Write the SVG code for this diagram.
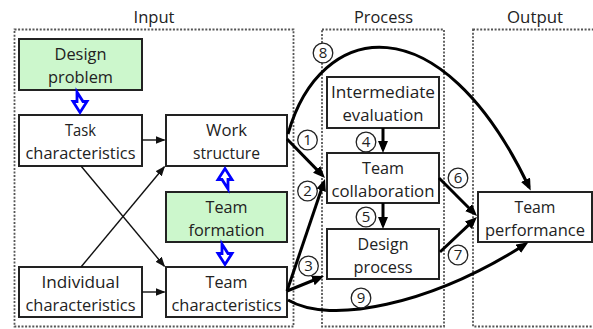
<svg xmlns="http://www.w3.org/2000/svg" width="593" height="329" viewBox="0 0 593 329">
  <style>
    .frame { fill: none; stroke: #555; stroke-width: 1.8; stroke-dasharray: 2 1.6; }
    .box { fill: #ffffff; stroke: #222; stroke-width: 2; }
    .box.green { fill: #ccf7cc; }
    text { font-family: "Open Sans", "Liberation Sans", sans-serif; font-size: 16.5px; fill: #222; text-anchor: middle; }
    .thin { fill: none; stroke: #111; stroke-width: 1.4; marker-end: url(#headThin); }
    .thick { fill: none; stroke: #000; stroke-width: 3; marker-end: url(#headThick); }
    .badge circle { fill: #fff; stroke: #222; stroke-width: 1.3; }
    .badge text { font-size: 15px; }
    .block { fill: #fff; stroke: #0000ff; stroke-width: 2.8; stroke-linejoin: miter; }
  </style>
  <defs>
    <marker id="headThin" markerUnits="userSpaceOnUse" markerWidth="11" markerHeight="9" refX="9" refY="4" orient="auto">
      <path d="M0,0 L10,4 L0,8 z" fill="#111"/>
    </marker>
    <marker id="headThick" markerUnits="userSpaceOnUse" markerWidth="13" markerHeight="11" refX="8" refY="5" orient="auto">
      <path d="M0,0 L12,5 L0,10 z" fill="#000"/>
    </marker>
    <!-- hollow block arrow pointing down, origin at top centre -->
    <path id="blockDown" d="M-3,0 V9.5 H-7 L0,20.5 L7,9.5 H3 Z"/>
  </defs>

  <!-- stage frames -->
  <g id="stages">
    <rect class="frame" x="14.5" y="29.5" width="279" height="297"/>
    <rect class="frame" x="322" y="29.5" width="122" height="297"/>
    <rect class="frame" x="473" y="29.5" width="125" height="297"/>
    <text x="154" y="23" textLength="41" lengthAdjust="spacingAndGlyphs">Input</text>
    <text x="383.5" y="23" textLength="59" lengthAdjust="spacingAndGlyphs">Process</text>
    <text x="535" y="23" textLength="56" lengthAdjust="spacingAndGlyphs">Output</text>
  </g>

  <!-- input nodes -->
  <g id="design-problem">
    <rect class="box green" x="19" y="39" width="123" height="51"/>
    <text x="80.5" y="60" textLength="52" lengthAdjust="spacingAndGlyphs">Design</text>
    <text x="80.5" y="83" textLength="65" lengthAdjust="spacingAndGlyphs">problem</text>
  </g>
  <g id="task-characteristics">
    <rect class="box" x="19" y="115" width="123" height="51"/>
    <text x="80.5" y="136" textLength="31" lengthAdjust="spacingAndGlyphs">Task</text>
    <text x="80.5" y="159" textLength="110" lengthAdjust="spacingAndGlyphs">characteristics</text>
  </g>
  <g id="work-structure">
    <rect class="box" x="166" y="115" width="121" height="51"/>
    <text x="226.5" y="136" textLength="41" lengthAdjust="spacingAndGlyphs">Work</text>
    <text x="226.5" y="159" textLength="67" lengthAdjust="spacingAndGlyphs">structure</text>
  </g>
  <g id="team-formation">
    <rect class="box green" x="166" y="192" width="121" height="50"/>
    <text x="226.5" y="213" textLength="42" lengthAdjust="spacingAndGlyphs">Team</text>
    <text x="226.5" y="236" textLength="76" lengthAdjust="spacingAndGlyphs">formation</text>
  </g>
  <g id="individual-characteristics">
    <rect class="box" x="19" y="267" width="123" height="50"/>
    <text x="80.5" y="288" textLength="78" lengthAdjust="spacingAndGlyphs">Individual</text>
    <text x="80.5" y="311" textLength="110" lengthAdjust="spacingAndGlyphs">characteristics</text>
  </g>
  <g id="team-characteristics">
    <rect class="box" x="166" y="267" width="121" height="50"/>
    <text x="226.5" y="288" textLength="42" lengthAdjust="spacingAndGlyphs">Team</text>
    <text x="226.5" y="311" textLength="110" lengthAdjust="spacingAndGlyphs">characteristics</text>
  </g>

  <!-- process nodes -->
  <g id="intermediate-evaluation">
    <rect class="box" x="327" y="77" width="112" height="51"/>
    <text x="383" y="98" textLength="104" lengthAdjust="spacingAndGlyphs">Intermediate</text>
    <text x="383" y="121" textLength="81" lengthAdjust="spacingAndGlyphs">evaluation</text>
  </g>
  <g id="team-collaboration">
    <rect class="box" x="327" y="153" width="112" height="50"/>
    <text x="383" y="174" textLength="42" lengthAdjust="spacingAndGlyphs">Team</text>
    <text x="383" y="197" textLength="103" lengthAdjust="spacingAndGlyphs">collaboration</text>
  </g>
  <g id="design-process">
    <rect class="box" x="327" y="229" width="112" height="50"/>
    <text x="383" y="250" textLength="51" lengthAdjust="spacingAndGlyphs">Design</text>
    <text x="383" y="273" textLength="59" lengthAdjust="spacingAndGlyphs">process</text>
  </g>

  <!-- output node -->
  <g id="team-performance">
    <rect class="box" x="478" y="192" width="114" height="50"/>
    <text x="535" y="213" textLength="41" lengthAdjust="spacingAndGlyphs">Team</text>
    <text x="535" y="236" textLength="100" lengthAdjust="spacingAndGlyphs">performance</text>
  </g>

  <!-- connectors -->
  <g id="connectors">
    <!-- influence arrows (blue block arrows) -->
    <use href="#blockDown" class="block" transform="translate(80,92)"/>
    <use href="#blockDown" class="block" transform="translate(225,189) rotate(180)"/>
    <use href="#blockDown" class="block" transform="translate(225,244)"/>

    <!-- input relations -->
    <line class="thin" x1="142" y1="140" x2="164.5" y2="140"/>
    <line class="thin" x1="142" y1="292" x2="164.5" y2="292"/>
    <line class="thin" x1="81" y1="166" x2="164.4" y2="266.2"/>
    <line class="thin" x1="81" y1="267" x2="164.4" y2="166.8"/>

    <!-- numbered paths -->
    <line class="thick" x1="287" y1="139" x2="322.2" y2="175.1"/>
    <line class="thick" x1="287" y1="291" x2="323.7" y2="182.8"/>
    <line class="thick" x1="287" y1="291" x2="320.3" y2="277.5"/>
    <line class="thick" x1="383" y1="128" x2="383" y2="149"/>
    <line class="thick" x1="383" y1="203" x2="383" y2="225"/>
    <line class="thick" x1="439" y1="178" x2="474.2" y2="213.2"/>
    <line class="thick" x1="440" y1="252" x2="474.1" y2="219.8"/>
    <path class="thick" d="M288,134 C320,20 440,0 529,187"/>
    <path class="thick" d="M288,300 C330,325 430,305 525,244.5"/>

    <!-- path numbers -->
    <g class="badge"><circle cx="307.5" cy="140" r="9.8"/><text x="307.5" y="145.3">1</text></g>
    <g class="badge"><circle cx="307.5" cy="191" r="9.8"/><text x="307.5" y="196.3">2</text></g>
    <g class="badge"><circle cx="308.5" cy="266" r="9.8"/><text x="308.5" y="271.3">3</text></g>
    <g class="badge"><circle cx="366" cy="142" r="9.8"/><text x="366" y="147.3">4</text></g>
    <g class="badge"><circle cx="366" cy="217" r="9.8"/><text x="366" y="222.3">5</text></g>
    <g class="badge"><circle cx="458" cy="178" r="9.8"/><text x="458" y="183.3">6</text></g>
    <g class="badge"><circle cx="458" cy="255" r="9.8"/><text x="458" y="260.3">7</text></g>
    <g class="badge"><circle cx="323" cy="53" r="9.8"/><text x="323" y="58.3">8</text></g>
    <g class="badge"><circle cx="361" cy="298" r="9.8"/><text x="361" y="303.3">9</text></g>
  </g>
</svg>
